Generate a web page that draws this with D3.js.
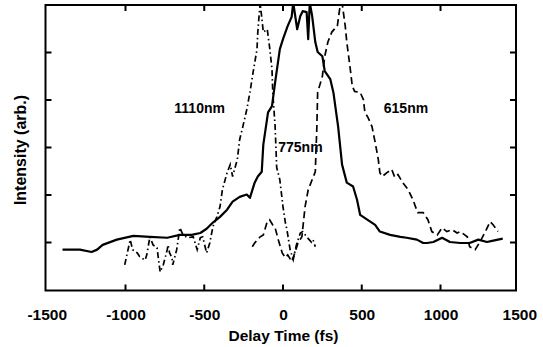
<!DOCTYPE html>
<html>
<head>
<meta charset="utf-8">
<script src="https://cdn.jsdelivr.net/npm/d3@7"></script>
<style>
  body { margin: 0; background: #fff; }
  svg text { font-family: "Liberation Sans", Arial, Helvetica, sans-serif; font-weight: bold; fill: #000; }
</style>
</head>
<body>
<div id="chart"></div>
<script>
// x ticks (fs) and y ticks (arb.)
var xTickLabels = [-1500, -1000, -500, 0, 500, 1000, 1500];
var xTickMarks = [-1000, -500, 0, 500, 1000];
var yTickMarks = [1, 2, 3, 4, 5];

// 775nm, solid
var t775 = [-1400, -1290, -1215, -1180, -1145, -1055, -950, -845, -735, -655, -580, -525, -485, -445, -400,
	-355, -320, -275, -230, -210, -180, -160, -135, -125, -95, -70, -50, -20, 0, 30, 55, 65, 90, 110, 125,
	150, 160, 170, 185, 205, 220, 250, 265, 300, 320, 350, 375, 405, 445, 470, 490, 535, 585, 615, 680, 745,
	785, 850, 890, 915, 955, 1010, 1060, 1125, 1185, 1240, 1295, 1335, 1395];
var v775 = [0.85, 0.85, 0.80, 0.85, 0.95, 1.06, 1.14, 1.12, 1.10, 1.16, 1.16, 1.20, 1.29, 1.42, 1.54,
	1.69, 1.86, 1.96, 2.01, 1.94, 2.26, 2.39, 2.49, 3.06, 3.74, 3.87, 4.37, 5.07, 5.28, 5.56, 5.75, 6.05, 5.49, 5.77, 5.87,
	5.85, 5.28, 6.05, 5.77, 5.22, 5.01, 4.92, 4.61, 4.44, 4.16, 3.44, 2.64, 2.26, 2.18, 1.90, 1.58, 1.48, 1.37, 1.23, 1.16, 1.12,
	1.10, 1.06, 0.99, 0.99, 1.01, 1.10, 1.01, 0.99, 0.99, 1.06, 1.01, 1.04, 1.08];

// 1110nm, dash-dot
var t1110 = [-1005, -970, -955, -925, -910, -875, -865, -845, -825, -800, -780, -760, -735, -730, -720, -705, -700,
	-675, -655, -635, -605, -570, -545, -525, -510, -485, -465, -445, -420, -400, -385, -355, -335, -320, -290,
	-275, -255, -230, -210, -190, -165, -160, -150, -145, -125, -100, -85, -70, -65, -50, -40, -20, 0, 15, 25,
	45, 65, 85, 110, 125, 150, 180, 190, 205];
var v1110 = [0.53, 1.06, 0.85, 0.78, 0.70, 0.63, 0.74, 1.12, 0.95, 0.89, 0.38, 0.53, 0.85, 0.95, 0.78, 0.68, 0.53,
	0.85, 1.31, 1.16, 1.10, 1.12, 0.85, 1.10, 1.12, 0.78, 0.99, 1.33, 1.54, 1.75, 2.11, 2.47, 2.64, 2.39, 2.75,
	3.17, 3.44, 3.80, 4.16, 4.58, 5.07, 5.43, 5.85, 6.05, 5.43, 5.49, 5.11, 4.65, 4.16, 3.44, 2.58, 2.32, 1.75, 1.42, 1.27,
	0.85, 0.64, 0.95, 1.20, 1.23, 1.12, 1.01, 1.06, 0.91];

// 615nm, dashed
var t615 = [-195, -180, -145, -125, -100, -85, -65, -50, -30, -5, 15, 30, 55, 75, 95, 120, 140, 160, 185, 205,
	215, 220, 250, 265, 285, 310, 345, 360, 375, 395, 405, 425, 440, 455, 490, 510, 520, 540, 565, 585, 605,
	615, 630, 660, 690, 710, 730, 760, 795, 825, 855, 890, 920, 945, 980, 1010, 1040, 1075, 1105, 1125, 1170,
	1185, 1220, 1250, 1285, 1315, 1335, 1365];
var v615 = [0.91, 0.99, 1.12, 1.16, 1.44, 1.48, 1.37, 1.31, 1.06, 0.78, 0.68, 0.74, 0.60, 0.78, 0.99, 1.12, 1.75, 2.11, 2.32, 2.49,
	3.44, 4.16, 4.50, 4.92, 5.22, 5.43, 5.56, 5.92, 6.05, 5.56, 5.22, 4.71, 4.29, 4.18, 4.16, 4.01, 3.74, 3.63, 3.44, 3.11, 2.75,
	2.47, 2.39, 2.47, 2.54, 2.37, 2.43, 2.26, 2.11, 1.90, 1.63, 1.63, 1.48, 1.23, 1.16, 1.31, 1.23, 1.27, 1.20, 1.23, 1.12,
	0.91, 0.85, 1.01, 1.23, 1.44, 1.37, 1.23];

var labels = ["1110nm", "775nm", "615nm"];

var width = 543, height = 347;
var frame = { left: 45.5, right: 516, top: 5, bottom: 290.5 };

var svg = d3.select("#chart").append("svg")
	.attr("width", width).attr("height", height)
	.attr("viewBox", "0 0 " + width + " " + height);

// tick labels sit at -1500 / 1500 which is just past the drawn box
var x = d3.scaleLinear().domain([-1500, 1500]).range([46.75, 519.25]);
var y = d3.scaleLinear().domain([0, 6]).range([290, 5]);

svg.append("clipPath").attr("id", "plotclip").append("rect")
	.attr("x", frame.left).attr("y", frame.top)
	.attr("width", frame.right - frame.left).attr("height", frame.bottom - frame.top);

var line = d3.line().x(function(d) { return x(d[0]); }).y(function(d) { return y(d[1]); });

function series(ts, vs) {
	return ts.map(function(t, i) { return [t, vs[i]]; });
}

var curves = svg.append("g").attr("clip-path", "url(#plotclip)");

curves.append("path").datum(series(t1110, v1110))
	.attr("d", line).attr("fill", "none").attr("stroke", "#000")
	.attr("stroke-width", 1.7).attr("stroke-dasharray", "6,3,1.5,3");

curves.append("path").datum(series(t615, v615))
	.attr("d", line).attr("fill", "none").attr("stroke", "#000")
	.attr("stroke-width", 1.7).attr("stroke-dasharray", "7,4");

curves.append("path").datum(series(t775, v775))
	.attr("d", line).attr("fill", "none").attr("stroke", "#000")
	.attr("stroke-width", 2.2).attr("stroke-linejoin", "round");

// box
svg.append("rect").attr("x", frame.left).attr("y", frame.top)
	.attr("width", frame.right - frame.left).attr("height", frame.bottom - frame.top)
	.attr("fill", "none").attr("stroke", "#000").attr("stroke-width", 2);

// inward ticks on all four sides
var tickLen = 6;
var ticks = svg.append("g").attr("stroke", "#000").attr("stroke-width", 2);
xTickMarks.forEach(function(t) {
	ticks.append("line").attr("x1", x(t)).attr("x2", x(t))
		.attr("y1", frame.bottom).attr("y2", frame.bottom - tickLen);
	ticks.append("line").attr("x1", x(t)).attr("x2", x(t))
		.attr("y1", frame.top).attr("y2", frame.top + tickLen);
});
yTickMarks.forEach(function(v) {
	ticks.append("line").attr("x1", frame.left).attr("x2", frame.left + tickLen)
		.attr("y1", y(v)).attr("y2", y(v));
	ticks.append("line").attr("x1", frame.right).attr("x2", frame.right - tickLen)
		.attr("y1", y(v)).attr("y2", y(v));
});

// tick labels through d3 axis, no tick lines of its own (plain hyphen for minus)
var xAxis = d3.axisBottom(x).tickValues(xTickLabels).tickSize(0).tickPadding(0)
	.tickFormat(function(d) { return String(d); });
var gx = svg.append("g").attr("transform", "translate(0,309)").call(xAxis);
gx.select(".domain").remove();
gx.selectAll("text").attr("font-size", "15.5px").attr("dy", "0.71em")
	.style("font-family", "'Liberation Sans', Arial, sans-serif").style("font-weight", "bold");

svg.append("text").attr("x", 283.5).attr("y", 341).attr("text-anchor", "middle")
	.attr("font-size", "15.5px").text("Delay Time (fs)");

svg.append("text").attr("transform", "translate(25.5,150) rotate(-90)")
	.attr("text-anchor", "middle").attr("font-size", "16px").text("Intensity (arb.)");

// curve labels
var labelPos = [[-690, 3.72], [-30, 2.9], [640, 3.72]];
svg.selectAll("text.curvelabel").data(labels).enter().append("text")
	.attr("class", "curvelabel")
	.attr("x", function(d, i) { return x(labelPos[i][0]); })
	.attr("y", function(d, i) { return y(labelPos[i][1]); })
	.attr("font-size", "14px").text(function(d) { return d; });
</script>
</body>
</html>
